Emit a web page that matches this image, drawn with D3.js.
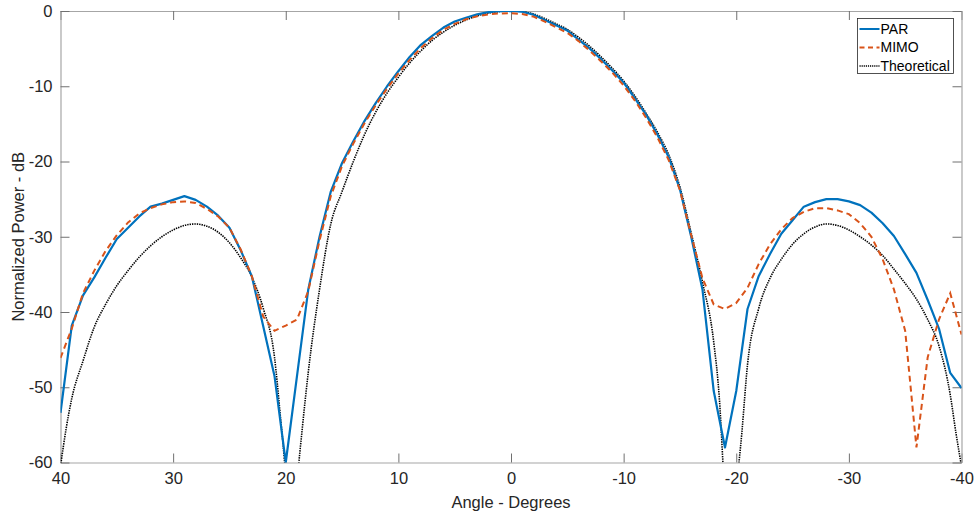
<!DOCTYPE html>
<html>
<head>
<meta charset="utf-8">
<script src="https://cdn.jsdelivr.net/npm/d3@7"></script>
<style>
  html, body { margin: 0; padding: 0; background: #fff; }
  svg { display: block; font-family: "Liberation Sans", Arial, sans-serif; }
</style>
</head>
<body>
<svg id="chart" width="976" height="517"></svg>
<script>
// Measured beam patterns, sampled every degree from +40 to -40
const angles = d3.range(40, -40.5, -1);

const parValues = [
  -53.4, -41.8, -37.8, -35.4, -32.8, -30.3, -28.8, -27.3, -26.0, -25.6,
  -25.1, -24.6, -25.1, -26.0, -27.2, -28.8, -31.8, -35.3, -41.9, -48.5,
  -60.0, -48.5, -37.0, -30.0, -24.0, -20.2, -17.3, -14.6, -12.2, -10.0,
  -8.0, -6.1, -4.5, -3.3, -2.2, -1.4, -0.9, -0.45, -0.15, -0.02,
  0.0,
  -0.1, -0.5, -1.2, -1.9, -2.6, -3.8, -5.0, -6.4, -7.9, -9.5,
  -11.6, -13.8, -16.4, -19.4, -23.7, -30.0, -37.0, -50.5, -58.0, -50.5,
  -39.6, -35.2, -32.3, -29.6, -27.8, -26.0, -25.4, -25.0, -25.0, -25.3,
  -25.8, -26.8, -28.2, -29.9, -32.3, -34.8, -38.4, -42.2, -48.1, -50.1
];

const mimoValues = [
  -46.1, -42.2, -37.5, -34.5, -31.9, -29.8, -28.1, -26.9, -26.2, -25.7,
  -25.4, -25.3, -25.5, -26.3, -27.3, -28.8, -31.7, -35.3, -40.6, -42.5,
  -41.8, -41.0, -37.2, -30.5, -24.6, -20.6, -17.6, -14.9, -12.5, -10.3,
  -8.3, -6.5, -4.9, -3.6, -2.5, -1.7, -1.1, -0.7, -0.45, -0.32,
  -0.3,
  -0.4, -0.75, -1.4, -2.15, -2.9, -4.0, -5.3, -6.7, -8.2, -9.9,
  -11.9, -14.2, -16.8, -19.8, -23.8, -29.8, -35.5, -39.0, -39.6, -38.8,
  -36.8, -33.6, -31.0, -29.0, -27.5, -26.7, -26.2, -26.2, -26.5, -27.0,
  -28.2, -30.0, -33.0, -37.0, -42.5, -58.0, -46.0, -41.0, -37.5, -43.0
];

// Theoretical pattern, denser around the nulls
const theoAngles = [
  40, 39.5, 39, 38, 37, 36, 35, 34, 33, 32, 31, 30, 29, 28, 27, 26, 25, 24, 23, 22, 21,
  20.5, 20, 19.5, 19, 18.5, 18, 17, 16, 15, 14, 13, 12, 11, 10, 9, 8, 7, 6, 5, 4, 3, 2, 1,
  0,
  -1, -2, -3, -4, -5, -6, -7, -8, -9, -10, -11, -12, -13, -14, -15, -16, -17, -18, -18.5,
  -19, -19.5, -20, -20.5, -21, -22, -23, -24, -25, -26, -27, -28, -29, -30, -31, -32, -33,
  -34, -35, -36, -37, -38, -39, -39.5, -40
];
const theoValues = [
  -60.5, -55.5, -51.5, -46.5, -42.0, -39.0, -36.5, -34.5, -32.7, -31.2, -30.0, -29.1, -28.5, -28.3, -28.6, -29.4, -30.8, -32.8, -35.4, -39.5, -46.0,
  -53.5, -62.0, -75.0, -63.0, -55.0, -48.0, -37.0, -28.3, -24.0, -20.0, -16.4, -13.4, -10.9, -8.8, -6.9, -5.3, -3.9, -2.8, -1.9, -1.2, -0.65, -0.3, -0.07,
  0.0,
  -0.08, -0.4, -1.0, -1.7, -2.45, -3.5, -4.7, -6.1, -7.6, -9.3, -11.3, -13.6, -16.1, -19.1, -23.4, -29.5, -36.0, -44.0, -51.5,
  -65.0, -75.0, -64.0, -56.0, -47.0, -39.5, -35.5, -33.0, -31.0, -29.6, -28.7, -28.3, -28.5, -29.1, -30.0, -31.1, -32.5,
  -34.3, -36.2, -38.3, -41.0, -44.5, -51.0, -56.0, -60.5
];

const xTicks = [40, 30, 20, 10, 0, -10, -20, -30, -40];
const yTicks = [0, -10, -20, -30, -40, -50, -60];

const seriesNames = ["PAR", "MIMO", "Theoretical"];

const margin = { left: 60.5, right: 14.5, top: 11, bottom: 54.5 };
const W = 976, H = 517;
const svg = d3.select("#chart");

const x = d3.scaleLinear().domain([40, -40]).range([margin.left, W - margin.right]);
const y = d3.scaleLinear().domain([-60, 0]).range([H - margin.bottom, margin.top]);

const axisColor = "#262626";
const boxColor = "#a6a6a6";
const tickLen = 9;

svg.append("defs").append("clipPath").attr("id", "plotClip")
  .append("rect")
  .attr("x", x.range()[0]).attr("y", y.range()[1])
  .attr("width", x.range()[1] - x.range()[0])
  .attr("height", y.range()[0] - y.range()[1]);

// Axes: labels on bottom/left, inward ticks mirrored on top/right
const fontSize = "16.5px";
const gx = svg.append("g").attr("transform", `translate(0,${y(-60)})`)
  .call(d3.axisBottom(x).tickValues(xTicks).tickSizeInner(-tickLen).tickSizeOuter(0).tickPadding(10)
        .tickFormat(d => String(d)));
const gxTop = svg.append("g").attr("transform", `translate(0,${y(0)})`)
  .call(d3.axisTop(x).tickValues(xTicks).tickSizeInner(-tickLen).tickSizeOuter(0).tickFormat(""));
const gy = svg.append("g").attr("transform", `translate(${x(40)},0)`)
  .call(d3.axisLeft(y).tickValues(yTicks).tickSizeInner(-tickLen).tickSizeOuter(0).tickPadding(8)
        .tickFormat(d => String(d)));
const gyRight = svg.append("g").attr("transform", `translate(${x(-40)},0)`)
  .call(d3.axisRight(y).tickValues(yTicks).tickSizeInner(-tickLen).tickSizeOuter(0).tickFormat(""));

[gx, gxTop, gy, gyRight].forEach(g => {
  g.select(".domain").attr("stroke", boxColor).attr("stroke-width", 1.2);
  g.selectAll(".tick line").attr("stroke", "#707070").attr("stroke-width", 1);
  g.selectAll(".tick text").attr("fill", axisColor).style("font-size", fontSize)
    .style("font-family", "'Liberation Sans', Arial, sans-serif");
});

// Axis titles
svg.append("text")
  .attr("x", (x.range()[0] + x.range()[1]) / 2).attr("y", 508)
  .attr("text-anchor", "middle").attr("fill", axisColor).style("font-size", "16.5px")
  .text("Angle - Degrees");
svg.append("text")
  .attr("transform", `translate(24,${(y.range()[0] + y.range()[1]) / 2}) rotate(-90)`)
  .attr("text-anchor", "middle").attr("fill", axisColor).style("font-size", "16.5px")
  .text("Normalized Power - dB");

// Curves
const line = d3.line().x(d => x(d[0])).y(d => y(d[1]));
const smooth = d3.line().x(d => x(d[0])).y(d => y(d[1])).curve(d3.curveMonotoneX);

const plot = svg.append("g").attr("clip-path", "url(#plotClip)");

plot.append("path")
  .datum(d3.zip(theoAngles, theoValues).reverse())
  .attr("d", smooth)
  .attr("fill", "none").attr("stroke", "#000").attr("stroke-width", 1.6)
  .attr("stroke-dasharray", "1.4,1");

plot.append("path")
  .datum(d3.zip(angles, parValues))
  .attr("d", line)
  .attr("fill", "none").attr("stroke", "#0072BD").attr("stroke-width", 2.2)
  .attr("stroke-linejoin", "round");

plot.append("path")
  .datum(d3.zip(angles, mimoValues))
  .attr("d", line)
  .attr("fill", "none").attr("stroke", "#D95319").attr("stroke-width", 2)
  .attr("stroke-dasharray", "6,4");

// Legend
const lg = svg.append("g").attr("transform", "translate(857.5,18.5)");
lg.append("rect").attr("width", 96).attr("height", 55)
  .attr("fill", "#fff").attr("stroke", "#262626").attr("stroke-width", 0.8);
const styles = [
  { stroke: "#0072BD", width: 2, dash: null },
  { stroke: "#D95319", width: 2, dash: "5,3.5" },
  { stroke: "#000", width: 1.4, dash: "1.2,0.9" }
];
seriesNames.forEach((name, i) => {
  const cy = 10.5 + i * 18.5;
  lg.append("line").attr("x1", 2).attr("x2", 22).attr("y1", cy).attr("y2", cy)
    .attr("stroke", styles[i].stroke).attr("stroke-width", styles[i].width)
    .attr("stroke-dasharray", styles[i].dash);
  lg.append("text").attr("x", 23).attr("y", cy).attr("dy", "0.35em")
    .attr("fill", "#000").style("font-size", "14px").text(name);
});
</script>
</body>
</html>
